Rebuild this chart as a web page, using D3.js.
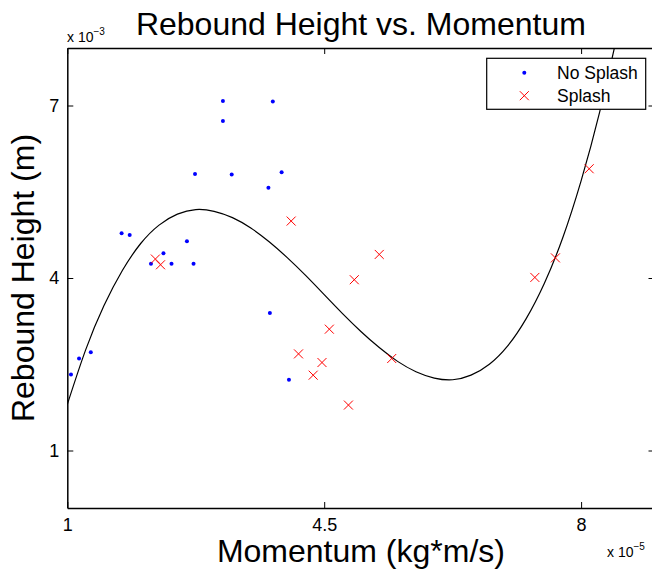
<!DOCTYPE html>
<html>
<head>
<meta charset="utf-8">
<script src="https://cdn.jsdelivr.net/npm/d3@7"></script>
<style>
  html, body { margin: 0; padding: 0; background: #fff; }
  svg { display: block; font-family: "Liberation Sans", Arial, Helvetica, sans-serif; }
</style>
</head>
<body>
<svg id="chart" width="652" height="571"></svg>
<script>
// ---- data (momentum in 1e-5 kg*m/s, height in 1e-3 m) ----
const noSplashX = [1.05, 1.16, 1.32, 1.74, 1.85, 2.14, 2.31, 2.42, 2.63, 2.72, 2.74, 3.12, 3.12, 3.24, 3.74, 3.80, 3.92, 3.76, 4.02];
const noSplashY = [2.32, 2.60, 2.71, 4.78, 4.75, 4.25, 4.43, 4.25, 4.64, 4.25, 5.81, 7.08, 6.73, 5.80, 5.57, 7.07, 5.84, 3.39, 2.23];
const splashX = [2.20, 2.27, 4.05, 4.91, 4.57, 4.15, 4.47, 4.35, 4.83, 5.25, 5.42, 7.37, 7.65, 8.11];
const splashY = [4.33, 4.23, 4.99, 3.97, 3.11, 2.68, 2.53, 2.31, 1.79, 4.41, 2.60, 4.01, 4.35, 5.90];
// fitted curve
const fitX = [1.0, 1.25, 1.5, 1.75, 2.0, 2.25, 2.5, 2.75, 3.0, 3.25, 3.5, 3.75, 4.0, 4.25, 4.5, 4.75, 5.0, 5.25, 5.5, 5.75, 6.0, 6.25, 6.5, 6.75, 7.0, 7.25, 7.5, 7.75, 8.0, 8.25, 8.5];
const fitY = [1.80, 2.75, 3.52, 4.13, 4.60, 4.92, 5.11, 5.19, 5.16, 5.05, 4.87, 4.63, 4.35, 4.04, 3.71, 3.38, 3.07, 2.79, 2.55, 2.37, 2.26, 2.23, 2.31, 2.50, 2.82, 3.29, 3.91, 4.70, 5.69, 6.87, 8.27];
const xTicks = [1, 4.5, 8];
const yTicks = [1, 4, 7];
const xDomain = [1, 9];
const yDomain = [0, 8];
const titleText = "Rebound Height vs. Momentum";
const xLabel = "Momentum (kg*m/s)";
const yLabel = "Rebound Height (m)";
const seriesNames = ["No Splash", "Splash"];

const svg = d3.select("#chart");
const m = { left: 67.3, top: 48, right: 654.5, bottom: 508 };
const x = d3.scaleLinear().domain(xDomain).range([m.left, m.right]);
const y = d3.scaleLinear().domain(yDomain).range([m.bottom, m.top]);
const tickLen = 6;
const fontTick = 18;

// clip
svg.append("defs").append("clipPath").attr("id", "clip")
  .append("rect").attr("x", m.left).attr("y", m.top)
  .attr("width", m.right - m.left).attr("height", m.bottom - m.top);

// axes (box with ticks on all sides)
const gx = svg.append("g").attr("transform", `translate(0,${m.bottom})`)
  .call(d3.axisBottom(x).tickValues(xTicks).tickSizeInner(-tickLen).tickSizeOuter(0).tickPadding(10).tickFormat(d3.format("")));
const gxt = svg.append("g").attr("transform", `translate(0,${m.top})`)
  .call(d3.axisTop(x).tickValues(xTicks).tickSizeInner(-tickLen).tickSizeOuter(0).tickFormat(""));
const gy = svg.append("g").attr("transform", `translate(${m.left},0)`)
  .call(d3.axisLeft(y).tickValues(yTicks).tickSizeInner(-tickLen).tickSizeOuter(0).tickPadding(8).tickFormat(d3.format("")));
const gyr = svg.append("g").attr("transform", `translate(${m.right},0)`)
  .call(d3.axisRight(y).tickValues(yTicks).tickSizeInner(-tickLen).tickSizeOuter(0).tickFormat(""));

[gx, gxt, gy, gyr].forEach(g => {
  g.select(".domain").attr("stroke", "#000").attr("stroke-width", 1.5);
  g.selectAll(".tick line").attr("stroke", "#000").attr("stroke-width", 1);
  g.selectAll(".tick text").attr("fill", "#000").attr("font-size", fontTick)
    .attr("font-family", "Liberation Sans, Arial, sans-serif");
});
gx.selectAll(".tick text").attr("dy", "0.71em");

// fit curve
const line = d3.line().x(d => x(d[0])).y(d => y(d[1])).curve(d3.curveNatural);
svg.append("path").datum(fitX.map((v, i) => [v, fitY[i]]))
  .attr("clip-path", "url(#clip)")
  .attr("d", line).attr("fill", "none").attr("stroke", "#000").attr("stroke-width", 1.2);

// no splash: blue dots
svg.append("g").selectAll("circle").data(noSplashX.map((v, i) => [v, noSplashY[i]]))
  .join("circle").attr("cx", d => x(d[0])).attr("cy", d => y(d[1])).attr("r", 2).attr("fill", "#0000ff");

// splash: red crosses
const cs = 4.5;
const crossPath = (cx, cy) => `M${cx - cs},${cy - cs}L${cx + cs},${cy + cs}M${cx - cs},${cy + cs}L${cx + cs},${cy - cs}`;
svg.append("g").selectAll("path").data(splashX.map((v, i) => [v, splashY[i]]))
  .join("path").attr("d", d => crossPath(x(d[0]), y(d[1])))
  .attr("stroke", "#ff0000").attr("stroke-width", 1).attr("fill", "none");

// title
svg.append("text").attr("x", (m.left + m.right) / 2).attr("y", 35)
  .attr("text-anchor", "middle").attr("font-size", 32).attr("fill", "#000").text(titleText);

// axis labels
svg.append("text").attr("x", (m.left + m.right) / 2).attr("y", 562)
  .attr("text-anchor", "middle").attr("font-size", 32).attr("fill", "#000").text(xLabel);
svg.append("text").attr("transform", `translate(34,${(m.top + m.bottom) / 2}) rotate(-90)`)
  .attr("text-anchor", "middle").attr("font-size", 32).attr("fill", "#000").text(yLabel);

// exponent labels
const e1 = svg.append("text").attr("x", 67).attr("y", 42).attr("font-size", 14).attr("fill", "#000");
e1.append("tspan").text("x 10");
e1.append("tspan").attr("dy", -7).attr("font-size", 10).text("\u22123");
const e2 = svg.append("text").attr("x", 607).attr("y", 557).attr("font-size", 14).attr("fill", "#000");
e2.append("tspan").text("x 10");
e2.append("tspan").attr("dy", -7).attr("font-size", 10).text("\u22125");

// legend
const lg = svg.append("g");
lg.append("rect").attr("x", 486.7).attr("y", 58.3).attr("width", 159).attr("height", 51)
  .attr("fill", "#fff").attr("stroke", "#000").attr("stroke-width", 1.2);
lg.append("circle").attr("cx", 524.3).attr("cy", 72.7).attr("r", 2).attr("fill", "#0000ff");
lg.append("path").attr("d", crossPath(524.3, 95.7)).attr("stroke", "#ff0000").attr("stroke-width", 1).attr("fill", "none");
lg.append("text").attr("x", 557).attr("y", 79).attr("font-size", 17.5).attr("fill", "#000").text(seriesNames[0]);
lg.append("text").attr("x", 557).attr("y", 102).attr("font-size", 17.5).attr("fill", "#000").text(seriesNames[1]);
</script>
</body>
</html>
